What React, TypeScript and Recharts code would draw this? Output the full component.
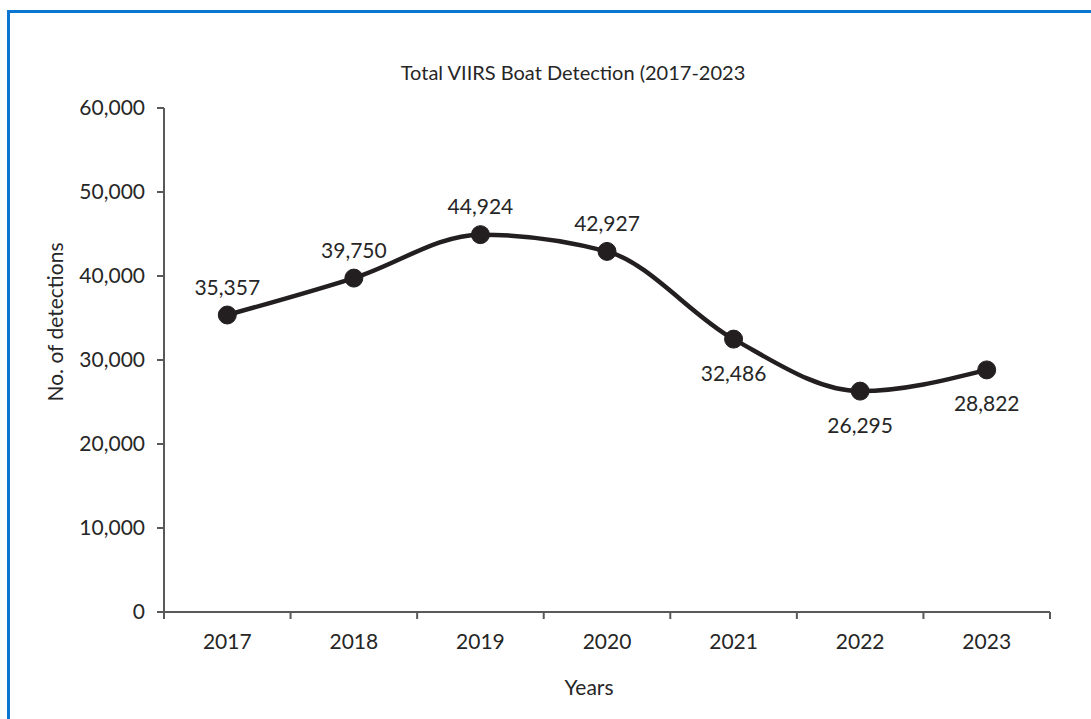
import React from 'react';
import { LineChart, Line, XAxis, YAxis, LabelList } from 'recharts';

const years = ['2017', '2018', '2019', '2020', '2021', '2022', '2023'];
const detections = [35357, 39750, 44924, 42927, 32486, 26295, 28822];
const yTicks = [0, 10000, 20000, 30000, 40000, 50000, 60000];

const data = years.map((year, i) => ({ x: i + 0.5, year, value: detections[i] }));
const xTicks = Array.from({ length: years.length * 2 + 1 }, (_, i) => i / 2);

const FONT = 'Lato, "Open Sans", sans-serif';
const TEXT = '#262626';
const AXIS = '#595959';

const fmt = (v: number) => v.toLocaleString('en-US');

const XTick = (props: any) => {
  const { x, y, payload } = props;
  const v = payload.value as number;
  if (Number.isInteger(v)) {
    return <line x1={x} x2={x} y1={y} y2={y + 7} stroke={AXIS} strokeWidth={2} />;
  }
  const label = years[Math.floor(v)];
  return (
    <text x={x} y={y + 28} textAnchor="middle" dominantBaseline="central" fill={TEXT} fontSize={21} fontFamily={FONT}>
      {label}
    </text>
  );
};

const renderLabel = (props: any) => {
  const { x, y, value, index } = props;
  const above = index < 4;
  return (
    <text
      x={x}
      y={above ? y - 29 : y + 33}
      textAnchor="middle"
      dominantBaseline="central"
      fill={TEXT}
      fontSize={21}
      fontFamily={FONT}
    >
      {fmt(value)}
    </text>
  );
};

export default function App() {
  return (
    <div style={{ position: 'absolute', left: 0, top: 0, width: 1091, height: 719, background: '#fff', overflow: 'hidden', fontFamily: FONT }}>
      <div
        style={{
          position: 'absolute',
          left: 7,
          top: 10,
          width: 1100,
          height: 720,
          borderTop: '3px solid #0a76d1',
          borderLeft: '3px solid #0a76d1',
          boxSizing: 'border-box',
        }}
      />
      <div
        style={{
          position: 'absolute',
          left: 573,
          top: 72,
          transform: 'translate(-50%, -50%)',
          whiteSpace: 'nowrap',
          fontSize: 20,
          color: TEXT,
          fontFamily: FONT,
        }}
      >
        Total VIIRS Boat Detection (2017-2023
      </div>
      <div
        style={{
          position: 'absolute',
          left: 589,
          top: 686,
          transform: 'translate(-50%, -50%)',
          whiteSpace: 'nowrap',
          fontSize: 21,
          color: TEXT,
          fontFamily: FONT,
        }}
      >
        Years
      </div>
      <div
        style={{
          position: 'absolute',
          left: 54,
          top: 322,
          transform: 'translate(-50%, -50%) rotate(-90deg)',
          whiteSpace: 'nowrap',
          fontSize: 21,
          color: TEXT,
          fontFamily: FONT,
        }}
      >
        No. of detections
      </div>
      <div style={{ position: 'absolute', left: 0, top: 0 }}>
        <LineChart width={1091} height={719} data={data} margin={{ top: 108, right: 41, bottom: 67, left: 0 }}>
          <XAxis
            dataKey="x"
            type="number"
            domain={[0, years.length]}
            ticks={xTicks}
            interval={0}
            tickLine={false}
            tickSize={0}
            tickMargin={0}
            tick={<XTick />}
            axisLine={{ stroke: AXIS, strokeWidth: 2 }}
            height={40}
          />
          <YAxis
            type="number"
            domain={[0, 60000]}
            ticks={yTicks}
            interval={0}
            width={164}
            tickFormatter={fmt}
            tickSize={7}
            tickMargin={12}
            tickLine={{ stroke: AXIS, strokeWidth: 2 }}
            axisLine={{ stroke: AXIS, strokeWidth: 2 }}
            tick={{ fill: TEXT, fontSize: 21, fontFamily: FONT }}
          />
          <Line
            type="monotone"
            dataKey="value"
            stroke="#231f20"
            strokeWidth={4.5}
            dot={{ r: 9, fill: '#231f20', stroke: '#231f20', strokeWidth: 1 }}
            activeDot={false}
            isAnimationActive={false}
          >
            <LabelList dataKey="value" content={renderLabel} />
          </Line>
        </LineChart>
      </div>
    </div>
  );
}
